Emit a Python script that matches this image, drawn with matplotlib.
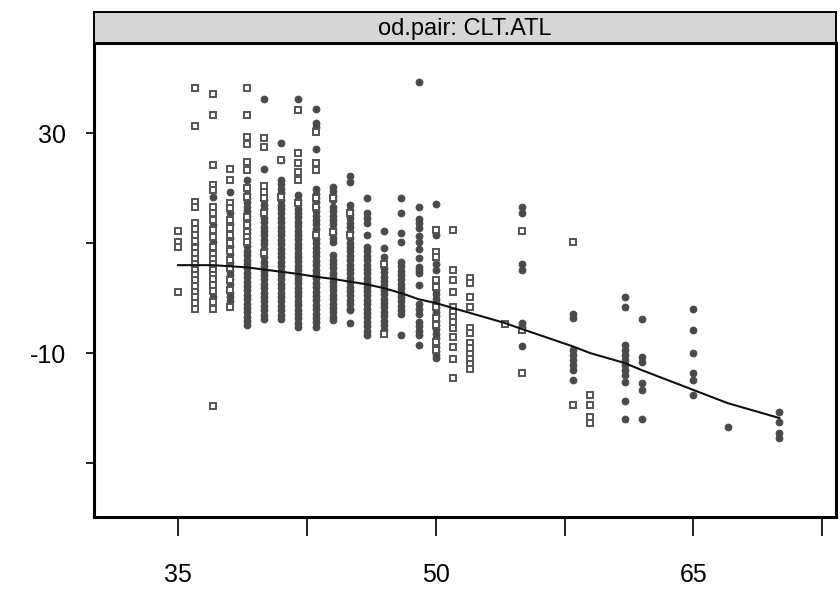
import matplotlib
matplotlib.use("Agg")
import matplotlib.pyplot as plt

plt.rcParams['font.family'] = ['Liberation Sans', 'DejaVu Sans']

# open squares, by x column
squares = {
    35: [12.3, 10.2, 9.3, 1.1],
    36: [38.3, 31.3, 17.5, 16.6, 13.6, 12.5, 11.4, 10.4, 9.2, 8.2, 7.2, 6.3, 5.1, 4.2, 3.3, 2.2, 1.1, 0.2, -0.9, -1.9],
    37: [37.2, 33.3, 24.2, 20.5, 19.6, 16.6, 15.4, 14.2, 12.4, 11.1, 9.3, 8.1, 7.2, 6.3, 5.2, 4.3, 3.4, 2.4, 1.3, -0.7, -1.9, -19.6],
    38: [23.4, 21.5, 17.3, 16.4, 14.2, 12.7, 11.5, 10.0, 8.5, 7.0, 5.5, 3.3, 1.5, -1.7],
    39: [38.3, 33.3, 29.3, 28.1, 24.8, 23.3, 20.0, 18.4, 14.8, 13.3, 12.1, 11.2, 10.2],
    40: [29.2, 27.5, 20.4, 19.3, 18.3, 15.4, 8.2],
    41: [25.2, 18.4],
    42: [34.3, 26.4, 24.5, 23.0, 21.5, 17.3],
    43: [30.2, 24.5, 23.3, 18.2, 16.6, 11.5],
    44: [18.3, 12.1],
    45: [15.4, 11.5],
    47: [6.3, -6.6],
    50: [12.4, 8.4, 7.5, 3.3, 2.1, -1.6, -3.7, -4.9, -7.9, -9.5],
    51: [12.4, 5.1, 3.3, 1.1, -1.6, -2.5, -3.4, -4.3, -5.5, -7.0, -8.8, -11.0, -14.6],
    52: [3.6, 2.7, 0.2, -1.6, -5.5, -6.4, -8.2, -9.1, -10.1, -11.0, -11.9, -12.8],
    54: [-4.7],
    55: [12.2, -5.8, -13.7],
    58: [10.2, -19.5],
    59: [-17.6, -19.5, -21.6, -22.7],
}

# filled circles, by x column
circles = {
    37: [18.4, 13.3, 10.2, 0.2],
    38: [19.3, 15.4, 13.5, 11.0, 9.5, 8.0, 6.5, 5.0, 4.2, 3.5, 2.5, 1.0, 0.2, -0.5],
    39: [21.5, 19.0, 18.2, 17.4, 16.6, 15.8, 15.0, 14.2, 13.4, 12.6, 11.8, 11.0, 10.2, 9.4, 8.6, 7.8, 7.0,
         6.2, 5.4, 4.6, 3.8, 3.0, 2.2, 1.4, 0.6, -0.2, -1.0, -1.8, -2.6, -3.4, -4.2, -4.9],
    40: [36.2, 23.4, 17.8, 17.0, 16.2, 14.6, 13.8, 13.0, 12.2, 11.4, 10.6, 9.8, 9.0, 7.4, 6.6, 5.8, 5.0,
         4.2, 3.4, 2.6, 1.8, 1.0, 0.2, -0.6, -1.4, -2.2, -3.0, -3.8],
    41: [28.2, 25.2, 21.5, 20.7, 19.9, 19.1, 17.8, 17.0, 16.2, 15.4, 14.6, 13.8, 13.0, 12.2, 11.4, 10.6,
         9.8, 9.0, 8.2, 7.4, 6.6, 5.8, 5.0, 4.2, 3.4, 2.6, 1.8, 1.0, 0.2, -0.6, -1.4, -2.2, -3.0, -3.8],
    42: [36.2, 18.7, 17.9, 17.1, 16.3, 15.5, 14.7, 13.9, 13.1, 12.3, 11.5, 10.7, 9.9, 9.1, 8.3, 7.5, 6.7,
         5.9, 5.1, 4.3, 3.5, 2.7, 1.9, 1.1, 0.3, -0.5, -1.3, -2.1, -2.9, -3.7, -4.5, -5.2],
    43: [34.4, 31.8, 31.2, 27.2, 19.8, 19.0, 18.2, 17.4, 16.6, 15.8, 15.0, 14.2, 13.4, 12.6, 10.8, 10.0,
         9.2, 8.4, 7.6, 6.8, 6.0, 5.2, 4.4, 3.6, 2.8, 2.0, 1.2, 0.4, -0.4, -1.2, -2.0, -2.8, -3.6, -4.4, -5.2],
    44: [20.2, 19.4, 18.6, 17.8, 16.6, 15.8, 15.0, 14.2, 13.4, 12.6, 11.8, 11.0, 10.2, 7.8, 7.0, 6.2, 5.4,
         4.6, 3.8, 3.0, 2.2, 1.4, 0.6, -0.2, -1.0, -1.8, -2.6, -3.4, -4.0],
    45: [22.2, 21.1, 16.9, 16.1, 15.3, 14.5, 13.7, 12.9, 12.1, 10.9, 10.1, 9.3, 8.5, 7.7, 6.9, 6.1, 5.3,
         4.5, 3.7, 2.9, 2.1, 1.3, 0.5, -0.3, -1.1, -1.9, -2.2, -4.6],
    46: [18.3, 15.4, 14.5, 13.6, 11.5, 9.3, 8.5, 7.7, 6.9, 6.1, 5.3, 4.5, 3.7, 2.9, 2.1, 1.3, 0.5, -0.3,
         -1.1, -1.9, -2.7, -3.5, -4.3, -5.1, -5.9, -6.7],
    47: [12.2, 9.2, 7.4, 5.5, 4.7, 3.9, 3.1, 2.3, 1.5, 0.7, -0.1, -0.9, -1.7, -2.5, -3.3, -4.1, -4.9, -5.8],
    48: [18.3, 15.4, 11.8, 10.2, 6.6, 5.8, 5.0, 4.2, 3.4, 2.6, 1.8, 1.0, 0.2, -0.6, -1.4, -2.2, -2.8, -6.7],
    49: [39.3, 16.5, 14.4, 13.6, 12.8, 11.3, 10.2, 9.0, 7.3, 5.7, 5.1, 4.5, 2.4, -1.0, -1.9, -2.8, -4.3,
         -5.1, -5.9, -6.7, -8.5],
    50: [17.2, 11.5, 6.3, 5.1, 1.5, 0.7, -0.1, -0.9, -1.7, -2.5, -3.3, -4.1, -4.9, -5.7, -6.5, -7.3, -8.1,
         -8.9, -9.7, -10.3, -10.9],
    55: [16.6, 15.4, 6.3, 5.1, -4.6, -5.2, -8.7],
    58: [-2.8, -3.7, -9.5, -10.4, -11.3, -12.2, -13.1, -14.9],
    61: [0.2, -1.7, -8.5, -9.4, -10.3, -11.3, -12.2, -13.1, -14.0, -15.2, -18.7, -21.9],
    62: [-3.8, -10.7, -11.6, -15.4, -16.7, -21.9],
    65: [-1.9, -5.8, -9.9, -13.7, -14.9, -17.6],
    67: [-23.5],
    70: [-20.7, -22.5, -24.5, -25.5],
}

# light grey triangles
triangles = {
    41: [16.0, 15.0, 14.0, 13.0, 12.0, 11.0, 10.0, 9.0, 8.0, 7.0, 6.0, 5.0, 4.0, 3.0, 2.0, 1.0, 0.0, -1.0],
    50: [7.3],
}

# smooth fit line
fit_x = [35, 36, 37, 38, 39, 40, 41, 42, 43, 44, 45, 46, 47, 48, 49, 50, 51, 52, 54, 55,
         58, 59, 61, 62, 65, 67, 70]
fit_y = [6.0, 6.0, 6.0, 5.8, 5.6, 5.2, 4.8, 4.4, 3.9, 3.5, 3.0, 2.5, 1.8, 0.9, -0.2, -0.9, -1.8,
         -2.7, -4.5, -5.6, -8.8, -10.0, -11.8, -13.1, -16.7, -19.1, -21.8]

x_ticks = [35, 42.5, 50, 57.5, 65, 72.5]
x_labels = ['35', '', '50', '', '65', '']
y_ticks = [30, 10, -10, -30]
y_labels = ['30', '', '-10', '']


def flatten(groups):
    xs, ys = [], []
    for x, vals in groups.items():
        xs += [x] * len(vals)
        ys += vals
    return xs, ys


W, H = 840, 592
fig = plt.figure(figsize=(W / 100, H / 100), dpi=100)
ax = fig.add_axes([94 / W, 75 / H, 742 / W, 474 / H])
strip = fig.add_axes([94 / W, 549 / H, 742 / W, 31 / H])

tx, ty = flatten(triangles)
ax.plot(tx, ty, ls='none', marker='^', ms=5, mfc='none', mec='#a8a8a8', mew=1.0, zorder=2)
cx, cy = flatten(circles)
ax.plot(cx, cy, ls='none', marker='o', ms=4.8, mfc='#4a4a4a', mec='#4a4a4a', mew=0.8, zorder=3)
sx, sy = flatten(squares)
ax.plot(sx, sy, ls='none', marker='s', ms=5.0, mfc='white', mec='#555555', mew=1.4, zorder=4)
ax.plot(fit_x, fit_y, color='#111111', lw=1.5, zorder=5)

ax.set_xlim(30.1, 73.3)
ax.set_ylim(-39.8, 46.4)
ax.set_xticks(x_ticks)
ax.set_xticklabels(x_labels)
ax.set_yticks(y_ticks)
ax.set_yticklabels(y_labels)
ax.tick_params(axis='x', length=14, width=1.2, pad=19, labelsize=18, color='black')
ax.tick_params(axis='y', length=6, width=1.2, pad=14, labelsize=18, color='black')
for s in ax.spines.values():
    s.set_linewidth(2.2)

strip.set_facecolor('#d6d6d6')
strip.set_xticks([])
strip.set_yticks([])
for s in strip.spines.values():
    s.set_linewidth(1.4)
strip.text(0.5, 0.45, 'od.pair: CLT.ATL', ha='center', va='center', fontsize=17,
           transform=strip.transAxes)

fig.savefig('out.png', dpi=100)
